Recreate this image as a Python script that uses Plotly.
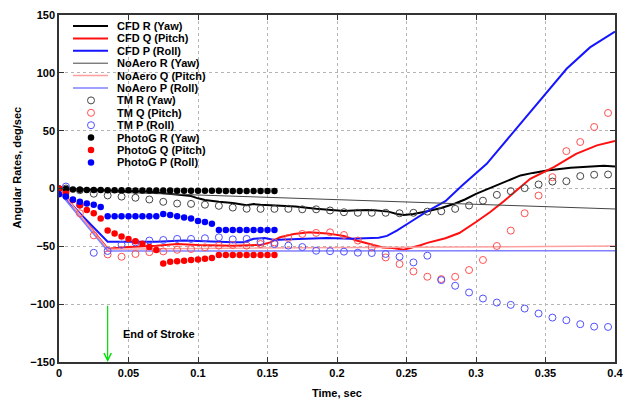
import plotly.graph_objects as go

# ---------------- data ----------------
# CFD (thick lines)
cfd_r_t = [0, 0.01, 0.02, 0.035, 0.05, 0.065, 0.075, 0.085, 0.095, 0.1, 0.105, 0.115, 0.125, 0.135, 0.14,
           0.145, 0.155, 0.17, 0.185, 0.195, 0.205, 0.215, 0.225, 0.237, 0.243, 0.248, 0.255, 0.265, 0.275,
           0.285, 0.292, 0.3, 0.31, 0.32, 0.332, 0.341, 0.351, 0.368, 0.384, 0.392, 0.4]
cfd_r_v = [0, -0.5, -1.2, -2, -2.3, -2.8, -4, -5, -6.5, -8.5, -10, -11.5, -12.5, -14.5, -13.5,
           -14, -14.5, -15.6, -17.6, -18.5, -19.5, -18.8, -18.5, -20, -22, -23, -22, -19.7, -16.8,
           -13, -9.5, -4.6, 0.5, 5.5, 11.3, 13.5, 15.6, 17.9, 19.3, 19.6, 19]

cfd_q_t = [0, 0.035, 0.05, 0.07, 0.085, 0.1, 0.125, 0.145, 0.152, 0.159, 0.169, 0.18, 0.193, 0.205, 0.214,
           0.225, 0.233, 0.24, 0.248, 0.26, 0.265, 0.278, 0.288, 0.3, 0.31, 0.32, 0.339, 0.356, 0.372,
           0.387, 0.4]
cfd_q_v = [0, -52, -50.5, -49.5, -48, -48.8, -49.4, -48.8, -46.6, -42.2, -39.3, -37.9, -38.8, -41, -45,
           -48.6, -51, -51.5, -52.9, -49, -47, -43, -38.5, -29, -20.5, -11, 8.4, 18.5, 30,
           37.3, 41]

cfd_p_t = [0, 0.035, 0.05, 0.07, 0.09, 0.11, 0.125, 0.133, 0.14, 0.148, 0.155, 0.162, 0.175, 0.193, 0.21,
           0.22, 0.23, 0.236, 0.243, 0.2525, 0.2645, 0.278, 0.29, 0.3077, 0.3317, 0.351, 0.3652, 0.382, 0.4]
cfd_p_v = [-3, -46, -46, -46, -45, -46, -46.5, -46.5, -43.5, -42.8, -44.5, -44, -43.6, -42.8, -43.5,
           -43, -42.5, -41, -36.4, -29.2, -20, -11, 2.5, 21.3, 56, 83, 103.5, 122, 135.6]

# No aero (thin lines)
noaero_r_t = [0, 0.035, 0.4]
noaero_r_v = [0, -3, -17.7]
noaero_q_t = [0, 0.035, 0.1, 0.2, 0.3, 0.4]
noaero_q_v = [0, -52.5, -51.8, -51.2, -50.6, -49.8]
noaero_p_t = [0, 0.035, 0.4]
noaero_p_v = [-3, -54, -53.8]

# TM (open circles)
tm_t = [0.005, 0.015, 0.025, 0.035, 0.045, 0.055, 0.065, 0.075, 0.085, 0.095,
        0.105, 0.115, 0.125, 0.135, 0.145, 0.155, 0.165, 0.175, 0.185, 0.195,
        0.205, 0.215, 0.225, 0.235, 0.245, 0.255, 0.265, 0.275, 0.285, 0.295,
        0.305, 0.315, 0.325, 0.335, 0.345, 0.355, 0.365, 0.375, 0.385, 0.395]
tm_r = [0, -1.5, -4.5, -6, -7, -8, -9.5, -11.5, -13, -13.3,
        -14, -15, -16.5, -17.5, -17.6, -17.6, -17.6, -18, -18, -19,
        -20.5, -21, -21, -21, -21.4, -21, -20, -19.7, -17.6, -14.7,
        -10.5, -5.5, -2.3, 0.3, 3.5, 6, 6.3, 10.7, 11.9, 12.1]
tm_q = [-2, -21.4, -40.5, -57, -59, -56.6, -55, -54.4, -53, -52.3,
        -50.9, -49.4, -48.8, -49.4, -48, -46.6, -42.8, -39.3, -38.4, -37.9,
        -40.2, -45, -50.9, -59.6, -65.3, -71.7, -76.3, -78.3, -76.3, -70.5,
        -61.8, -49.7, -36.4, -21.4, -6.1, 9.8, 32.3, 40.2, 53.2, 65.3]
tm_p = [1.7, -14, -55.6, -54, -48.6, -46.6, -45, -44.5, -43.6, -43.6,
        -43, -42.2, -44, -43.6, -46, -48, -49.4, -50.6, -53.8, -54.2,
        -54.6, -55.5, -55.8, -56.6, -59, -63.9, -58.1, -79.2, -84.1, -89.9,
        -95.1, -98.6, -100.6, -103.8, -108.1, -111.6, -113.9, -117.3, -119.4, -119.7]

# Photogrammetry (filled dots)
pg_t = [0.000, 0.005, 0.010, 0.015, 0.020, 0.025, 0.030, 0.035, 0.040, 0.045,
        0.050, 0.055, 0.060, 0.065, 0.070, 0.075, 0.080, 0.085, 0.090, 0.095,
        0.100, 0.105, 0.110, 0.115, 0.120, 0.125, 0.130, 0.135, 0.140, 0.145,
        0.150, 0.155]
pg_r = [0, -0.5, -0.8, -1.0, -1.2, -1.3, -1.4, -1.5, -1.5, -1.6,
        -1.6, -1.7, -1.7, -1.7, -1.8, -1.8, -1.8, -1.9, -1.9, -1.9,
        -2.0, -2.0, -2.0, -2.0, -2.1, -2.1, -2.1, -2.1, -2.2, -2.2,
        -2.2, -2.2]
pg_q = [0, -4.6, -10, -14.5, -18.5, -21.4, -26, -36.4, -39, -41.6,
        -43.6, -45.7, -47.7, -50.5, -53.2, -64.8, -63.3, -63, -62.4, -61.9,
        -61.3, -60.7, -60.1, -57.5, -57.5, -57.5, -57.5, -57.5, -57.5, -57.5,
        -57.5, -57.5]
pg_p = [-5, -7, -9.5, -11.5, -13, -14, -16, -24, -24, -24,
        -24, -24, -24, -24, -24, -22, -23, -24, -25, -26,
        -28, -29, -30.5, -35.8, -35.8, -35.8, -35.8, -35.8, -35.8, -35.8,
        -35.8, -35.8]

x_ticks = [0, 0.05, 0.1, 0.15, 0.2, 0.25, 0.3, 0.35, 0.4]
x_tick_text = ["0", "0.05", "0.1", "0.15", "0.2", "0.25", "0.3", "0.35", "0.4"]
y_ticks = [-150, -100, -50, 0, 50, 100, 150]

# ---------------- styles ----------------
FONT = "Liberation Sans, Arial, sans-serif"
series = [
    # name, kind, x, y, color, size/width
    ("CFD R (Yaw)", "line", cfd_r_t, cfd_r_v, "#000000", 2),
    ("CFD Q (Pitch)", "line", cfd_q_t, cfd_q_v, "#ff1010", 2),
    ("CFD P (Roll)", "line", cfd_p_t, cfd_p_v, "#1515ff", 2),
    ("NoAero R (Yaw)", "line", noaero_r_t, noaero_r_v, "#444444", 1),
    ("NoAero Q (Pitch)", "line", noaero_q_t, noaero_q_v, "#ffa0a0", 1.5),
    ("NoAero P (Roll)", "line", noaero_p_t, noaero_p_v, "#8080ff", 1.5),
    ("TM R (Yaw)", "open", tm_t, tm_r, "#444444", 7),
    ("TM Q (Pitch)", "open", tm_t, tm_q, "#ff5050", 7),
    ("TM P (Roll)", "open", tm_t, tm_p, "#5050ff", 7),
    ("PhotoG R (Yaw)", "dot", pg_t, pg_r, "#000000", 6.5),
    ("PhotoG Q (Pitch)", "dot", pg_t, pg_q, "#ff0000", 6.5),
    ("PhotoG P (Roll)", "dot", pg_t, pg_p, "#0000ff", 6.5),
]

fig = go.Figure()

def add_series(name, kind, x, y, color, s, xa="x", ya="y"):
    if kind == "line":
        fig.add_trace(go.Scatter(x=x, y=y, mode="lines", name=name, showlegend=False,
                                 line=dict(color=color, width=s), xaxis=xa, yaxis=ya))
    elif kind == "open":
        fig.add_trace(go.Scatter(x=x, y=y, mode="markers", name=name, showlegend=False,
                                 marker=dict(symbol="circle-open", size=s, color=color,
                                             line=dict(width=1, color=color)),
                                 xaxis=xa, yaxis=ya))
    else:
        fig.add_trace(go.Scatter(x=x, y=y, mode="markers", name=name, showlegend=False,
                                 marker=dict(symbol="circle", size=s, color=color,
                                             line=dict(width=0)),
                                 xaxis=xa, yaxis=ya))

for name, kind, x, y, color, s in series:
    add_series(name, kind, x, y, color, s)

# ---------------- compact legend (on hidden overlay axes) ----------------
LEG_ROW0, LEG_STEP = 11, 12.4
LEG_LINE_X = [14, 49]
LEG_MARK_X = [32]
LEG_TEXT_X = 56
annotations = []
for i, (name, kind, x, y, color, s) in enumerate(series):
    yi = LEG_ROW0 + LEG_STEP * i
    if kind == "line":
        add_series(name, kind, LEG_LINE_X, [yi, yi], color, s, "x2", "y2")
    else:
        add_series(name, kind, LEG_MARK_X, [yi], color, s, "x2", "y2")
    annotations.append(dict(x=LEG_TEXT_X, y=yi, xref="x2", yref="y2", text=name,
                            showarrow=False, xanchor="left", yanchor="middle",
                            font=dict(family=FONT, size=11, color="#000", weight="bold")))

# end of stroke arrow + label
annotations.append(dict(x=0.035, y=-150, xref="x", yref="y", ax=0.035, ay=-100, axref="x", ayref="y",
                        showarrow=True, arrowhead=5, arrowsize=1.2, arrowwidth=1.2,
                        arrowcolor="#00dd00", text=""))
annotations.append(dict(x=0.0445, y=-126, xref="x", yref="y", text="End of Stroke",
                        showarrow=False, xanchor="left", yanchor="middle",
                        font=dict(family=FONT, size=11, color="#000", weight="bold")))
# axis titles
annotations.append(dict(x=0.5, y=-0.09, xref="paper", yref="paper", text="Time, sec",
                        showarrow=False, xanchor="center", yanchor="middle",
                        font=dict(family=FONT, size=11, color="#000", weight="bold")))
annotations.append(dict(x=-0.076, y=0.56, xref="paper", yref="paper", text="Angular Rates, deg/sec",
                        showarrow=False, xanchor="center", yanchor="middle", textangle=-90,
                        font=dict(family=FONT, size=11, color="#000", weight="bold")))

axis_common = dict(showline=True, linecolor="#333333", linewidth=1.5, mirror="allticks",
                   ticks="inside", ticklen=5, tickcolor="#333333",
                   showgrid=True, gridcolor="#b5b5b5", griddash="dot", gridwidth=1,
                   zeroline=False, automargin=False,
                   tickfont=dict(family=FONT, size=11, color="#000", weight="bold"))

fig.update_layout(
    width=625, height=401,
    margin=dict(l=59, r=10, t=15, b=39),
    paper_bgcolor="white", plot_bgcolor="white",
    showlegend=False,
    xaxis=dict(range=[0, 0.4], tickvals=x_ticks, ticktext=x_tick_text, **axis_common),
    yaxis=dict(range=[-150, 150], tickvals=y_ticks, **axis_common),
    xaxis2=dict(range=[0, 556], overlaying="x", visible=False, anchor="y2"),
    yaxis2=dict(range=[347, 0], overlaying="y", visible=False, anchor="x2"),
    annotations=annotations,
)

fig.write_html("out.html")
